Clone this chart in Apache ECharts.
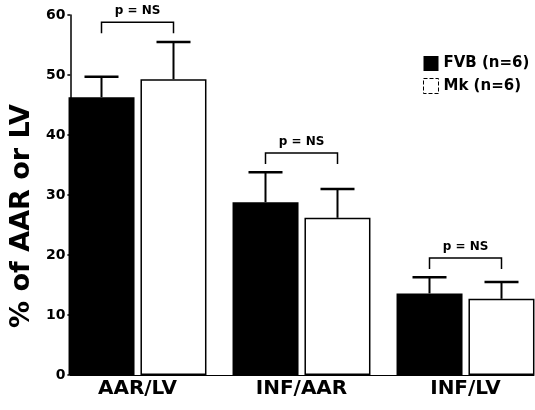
<!DOCTYPE html>
<html><head><meta charset="utf-8">
<script src="https://cdn.jsdelivr.net/npm/echarts@6/dist/echarts.min.js"></script>
<style>html,body{margin:0;padding:0;background:#fff;overflow:hidden}#c{width:548px;height:410px}</style>
</head><body><div id="c"></div>
<script>
const categories = ['AAR/LV', 'INF/AAR', 'INF/LV'];
const seriesNames = ['FVB (n=6)', 'Mk (n=6)'];
const fvbMean = [46.3, 28.8, 13.6];
const fvbUpper = [49.7, 33.8, 16.3];
const mkMean = [49.3, 26.2, 12.7];
const mkUpper = [55.5, 31.0, 15.5];
const bracketLevel = [58.8, 37.0, 19.5];
const bracketText = ['p = NS', 'p = NS', 'p = NS'];
const yMin = 0, yMax = 60, yStep = 10;
const yName = '% of AAR or LV';

const FONT = 'DejaVu Sans';
const BAR_W = 66, HALF = 36, CAP = 17, DROP = 11;

function errItem(offset) {
  return function (params, api) {
    const x = api.value(0);
    const lo = api.coord([x, api.value(1)]);
    const hi = api.coord([x, api.value(2)]);
    const px = lo[0] + offset;
    return {
      type: 'group', children: [
        { type: 'line', shape: { x1: px, y1: lo[1], x2: px, y2: hi[1] }, style: { stroke: '#000', lineWidth: 2 } },
        { type: 'line', shape: { x1: px - CAP, y1: hi[1], x2: px + CAP, y2: hi[1] }, style: { stroke: '#000', lineWidth: 2.5 } }
      ]
    };
  };
}

const chart = echarts.init(document.getElementById('c'));
chart.setOption({
  animation: false,
  backgroundColor: '#fff',
  legend: {
    orient: 'vertical', left: 418, top: 51, itemWidth: 15, itemHeight: 15, itemGap: 7,
    icon: 'rect',
    textStyle: { fontFamily: FONT, fontWeight: 'bold', fontSize: 15, color: '#000' },
    data: [
      { name: seriesNames[0], itemStyle: { color: '#000' } },
      { name: seriesNames[1], itemStyle: { color: '#fff', borderColor: '#000', borderWidth: 1, borderType: 'dashed' } }
    ]
  },
  grid: [
    { left: 55.5, width: 492, top: 15, height: 360 },
    { left: 67, width: 467, top: 15, height: 360 }
  ],
  xAxis: [
    { type: 'category', gridIndex: 0, data: categories,
      axisLine: { show: false }, axisTick: { show: false },
      axisLabel: { fontFamily: FONT, fontWeight: 'bold', fontSize: 20, color: '#000', margin: 4 } },
    { type: 'value', gridIndex: 1, min: 0, max: 1,
      axisLine: { show: true, lineStyle: { color: '#000', width: 1 } },
      axisTick: { show: false }, axisLabel: { show: false }, splitLine: { show: false } }
  ],
  yAxis: [
    { type: 'value', gridIndex: 0, min: yMin, max: yMax, interval: yStep, show: false },
    { type: 'value', gridIndex: 1, min: yMin, max: yMax, interval: yStep,
      axisLine: { show: true, lineStyle: { color: '#000', width: 1.5 } },
      axisTick: { show: true, length: 3, lineStyle: { color: '#000', width: 1.5 } },
      splitLine: { show: false },
      axisLabel: { fontFamily: FONT, fontWeight: 'bold', fontSize: 14, color: '#000', margin: 5 },
      name: yName, nameLocation: 'middle', nameGap: 23, nameRotate: 90,
      nameTextStyle: { fontFamily: FONT, fontWeight: 'bold', fontSize: 27, color: '#000', padding: [0, 42, 0, 0] } }
  ],
  series: [
    { name: seriesNames[0], type: 'bar', xAxisIndex: 0, yAxisIndex: 0, data: fvbMean,
      barWidth: BAR_W, barGap: '9%', itemStyle: { color: '#000' } },
    { name: seriesNames[1], type: 'bar', xAxisIndex: 0, yAxisIndex: 0, data: mkMean,
      barWidth: BAR_W, barGap: '9%', itemStyle: { color: '#fff', borderColor: '#000', borderWidth: 1.5 } },
    { type: 'custom', xAxisIndex: 0, yAxisIndex: 0, z: 5, renderItem: errItem(-HALF),
      encode: { x: 0, y: [1, 2] }, data: categories.map((c, i) => [i, fvbMean[i], fvbUpper[i]]) },
    { type: 'custom', xAxisIndex: 0, yAxisIndex: 0, z: 5, renderItem: errItem(HALF),
      encode: { x: 0, y: [1, 2] }, data: categories.map((c, i) => [i, mkMean[i], mkUpper[i]]) },
    { type: 'custom', xAxisIndex: 0, yAxisIndex: 0, z: 5,
      encode: { x: 0, y: 1 }, data: categories.map((c, i) => [i, bracketLevel[i]]),
      renderItem: function (params, api) {
        const i = params.dataIndex;
        const c = api.coord([api.value(0), api.value(1)]);
        const l = c[0] - HALF, r = c[0] + HALF;
        return { type: 'group', children: [
          { type: 'polyline', shape: { points: [[l, c[1] + DROP], [l, c[1]], [r, c[1]], [r, c[1] + DROP]] },
            style: { stroke: '#000', lineWidth: 1.5, fill: null } },
          { type: 'text', x: c[0], y: c[1] - 11,
            style: { text: bracketText[i], fontFamily: FONT, fontWeight: 'bold', fontSize: 12, fill: '#000', align: 'center', verticalAlign: 'middle' } }
        ] };
      } }
  ]
});
</script></body></html>
